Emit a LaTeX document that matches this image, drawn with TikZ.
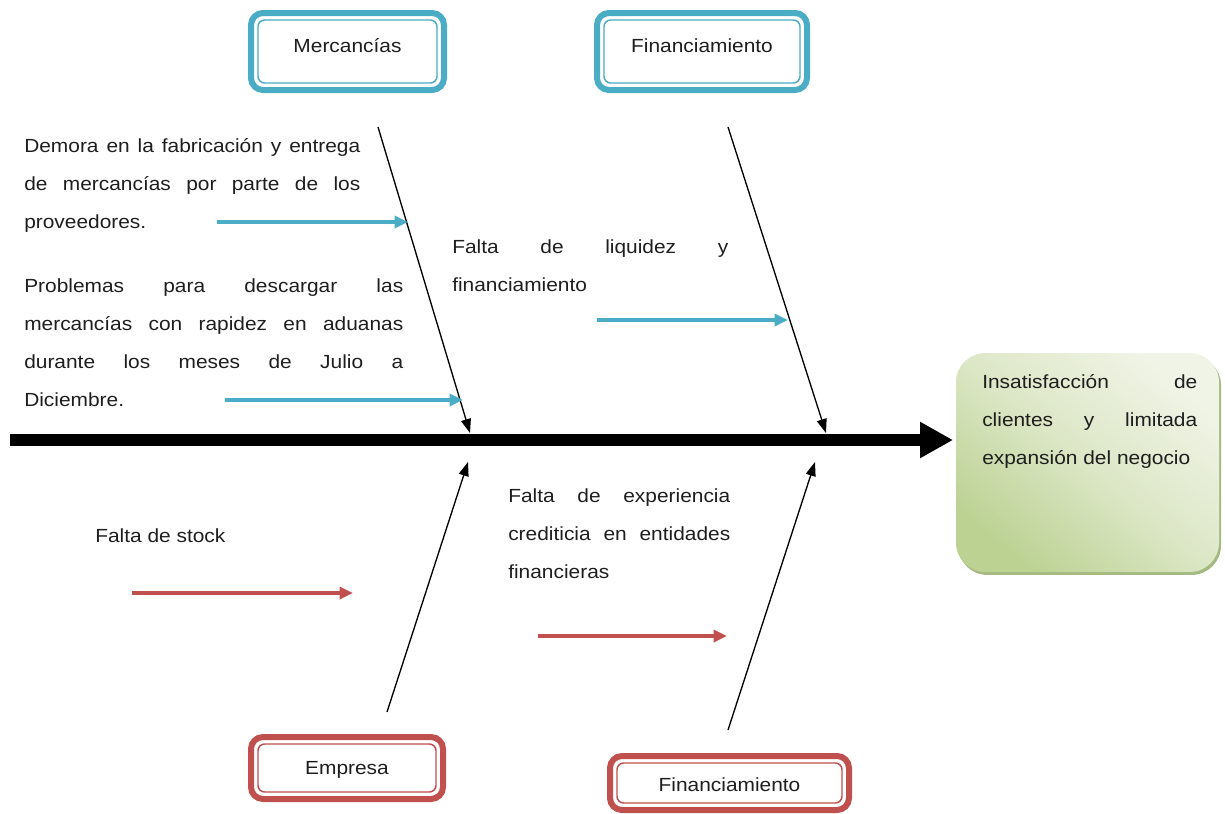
\documentclass[tikz,border=0pt]{standalone}
\usepackage{fontspec}
\setmainfont{Liberation Sans}[FakeStretch=1.1]
\usetikzlibrary{arrows.meta,shadows,calc}
\definecolor{teal1}{HTML}{4BACC6}
\definecolor{red1}{HTML}{C0504D}
\definecolor{gdark}{HTML}{BCD293}
\definecolor{gmid}{HTML}{DCE7C6}
\definecolor{glight}{HTML}{F0F4E6}
\definecolor{gshadow}{HTML}{8FA863}
\definecolor{txt}{HTML}{1E1E1E}
\tikzset{
  catbox/.style={draw=#1, line width=4.5pt, rounded corners=9pt, fill=white,
    font=\fontsize{14.25}{17}\selectfont, text=txt, inner sep=0pt,
    path picture={\draw[#1, line width=1.1pt, rounded corners=5pt]
      ([shift={(5.25pt,5.25pt)}]path picture bounding box.south west) rectangle
      ([shift={(-5.25pt,-5.25pt)}]path picture bounding box.north east);}},
  para/.style={anchor=base west, inner sep=0pt, align=left, text=txt,
    font=\fontsize{14.25}{28.5}\selectfont},
  bone/.style={draw=black, line width=1pt, -{Triangle[length=10.5pt,width=7.5pt]}},
  tealarrow/.style={draw=teal1, line width=3pt, -{Triangle[length=10pt,width=9pt]}},
  redarrow/.style={draw=red1, line width=2.6pt, -{Triangle[length=10pt,width=9pt]}},
  spine/.style={draw=black, line width=9pt, -{Triangle[length=24.75pt,width=25.5pt]}},
  effbox/.style={rounded corners=22pt, top color=glight, bottom color=gdark, middle color=gmid,
    shading angle=-40, minimum width=197.25pt, minimum height=164.25pt, inner sep=0pt,
    drop shadow={shadow xshift=1.5pt, shadow yshift=-2.2pt, fill=gshadow, opacity=0.8}}
}
\newcommand{\jl}[2]{\makebox[#1][s]{#2}}
\begin{document}
\begin{tikzpicture}[x=0.75pt,y=-0.75pt]
\useasboundingbox (0,0) rectangle (1225,814);
% category boxes
\node[catbox=teal1, minimum width=144.75pt, minimum height=57.75pt, text height=6pt, text depth=4pt] (merc) at (347.5,51.5) {Mercancías};
\node[catbox=teal1, minimum width=157.5pt, minimum height=57.75pt, text height=6pt, text depth=4pt] (fintop) at (702,51.5) {Financiamiento};
\node[catbox=red1, minimum width=144pt, minimum height=46.5pt, text height=10pt, text depth=0pt] (emp) at (347,768) {Empresa};
\node[catbox=red1, minimum width=179.25pt, minimum height=40.5pt, text height=13pt, text depth=0pt] (finbot) at (729.5,783) {Financiamiento};
% effect
\node[effbox] (effect) at (1087.5,462.5) {};
\node[para] (efftext) at (982,464) {\jl{161.25pt}{Insatisfacción de}\\\jl{161.25pt}{clientes y limitada}\\expansión del negocio};
% spine
\coordinate (spS) at (10,440);
\draw[spine, shorten >=2pt] (spS) -- (effect.west |- spS);
% bones
\coordinate (b1s) at (378,127); \coordinate (b1e) at (470,433);
\coordinate (b2s) at (728,127); \coordinate (b2e) at (826,433);
\coordinate (b3s) at (387,712); \coordinate (b3e) at (468,462);
\coordinate (b4s) at (728,730); \coordinate (b4e) at (815,462);
\draw[bone] (b1s) -- (b1e);
\draw[bone] (b2s) -- (b2e);
\draw[bone] (b3s) -- (b3e);
\draw[bone] (b4s) -- (b4e);
% cause texts (anchor = baseline of last line)
\node[para] (demora) at (24,228) {\jl{252pt}{Demora en la fabricación y entrega}\\\jl{252pt}{de mercancías por parte de los}\\proveedores.};
\node[para] (problemas) at (24,406.5) {\jl{284.25pt}{Problemas para descargar las}\\\jl{284.25pt}{mercancías con rapidez en aduanas}\\\jl{284.25pt}{durante los meses de Julio a}\\Diciembre.};
\node[para] (liquidez) at (452,291) {\jl{207pt}{Falta de liquidez y}\\financiamiento};
\node[para] (exper) at (508,578) {\jl{166.5pt}{Falta de experiencia}\\\jl{166.5pt}{crediticia en entidades}\\financieras};
\node[para] (stock) at (95,542) {Falta de stock};
% cause arrows
\coordinate (t1s) at (217,222); \coordinate (t1e) at (408,222);
\coordinate (t2s) at (225,400); \coordinate (t2e) at (463,400);
\coordinate (t3s) at (597,320); \coordinate (t3e) at (788,320);
\coordinate (r1s) at (132,593); \coordinate (r1e) at (353,593);
\coordinate (r2s) at (538,636); \coordinate (r2e) at (727,636);
\draw[tealarrow] (t1s) -- (t1e);
\draw[tealarrow] (t2s) -- (t2e);
\draw[tealarrow] (t3s) -- (t3e);
\draw[redarrow] (r1s) -- (r1e);
\draw[redarrow] (r2s) -- (r2e);
\end{tikzpicture}
\end{document}
